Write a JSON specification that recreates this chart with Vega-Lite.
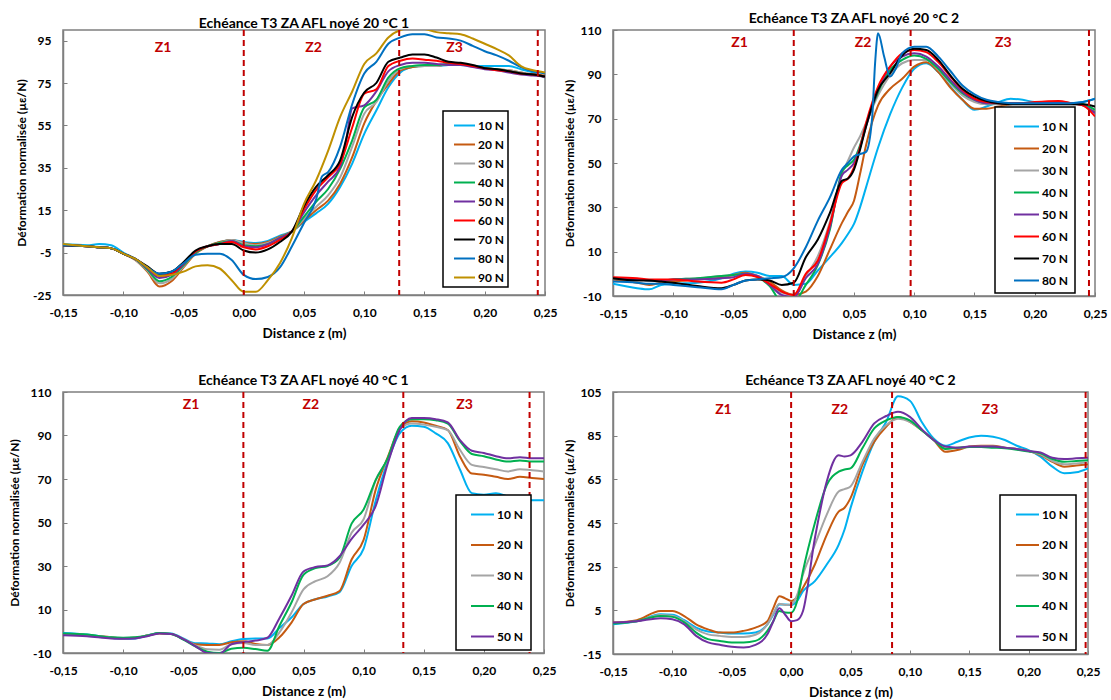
{
"$schema":"https://vega.github.io/schema/vega-lite/v6.json",
"background":"white",
"padding":{"left":7,"top":11,"right":0,"bottom":0},
"config":{
 "font":"Lato",
 "view":{"stroke":"#7f7f7f","strokeWidth":1.5},
 "axis":{"grid":false,"domainColor":"#7f7f7f","domainWidth":1.5,"tickColor":"#7f7f7f","tickSize":-4,"labelFlush":false,"labelOverlap":false,"labelFont":"Lato","labelFontWeight":"bold","labelFontSize":12,"labelColor":"#000","labelPadding":16,"titleFont":"Lato","titleFontWeight":"bold","titleFontSize":12,"titleColor":"#000"},
 "axisX":{"titlePadding":8,"titleFontSize":13.5},
 "axisY":{"titlePadding":4},
 "title":{"font":"Lato","fontSize":14,"fontWeight":"bold","color":"#000","offset":-2},
 "legend":{"symbolType":"stroke","symbolStrokeWidth":2,"labelFont":"Lato","labelFontSize":12,"labelFontWeight":"bold","labelColor":"#000","strokeColor":"#000","fillColor":"#fff","labelOffset":2,"strokeWidth":1.5}
},
"datasets":{
"p1":[
{"s":10,"x":-0.15,"y":-1},{"s":10,"x":-0.13,"y":-1.5},{"s":10,"x":-0.12,"y":-1},{"s":10,"x":-0.11,"y":-1.5},{"s":10,"x":-0.1,"y":-5},{"s":10,"x":-0.09,"y":-8},{"s":10,"x":-0.08,"y":-12},{"s":10,"x":-0.07,"y":-15},{"s":10,"x":-0.06,"y":-14},{"s":10,"x":-0.05,"y":-10.5},{"s":10,"x":-0.04,"y":-5},{"s":10,"x":-0.03,"y":-2},{"s":10,"x":-0.02,"y":0},{"s":10,"x":-0.01,"y":1},{"s":10,"x":0,"y":0},{"s":10,"x":0.01,"y":-0.5},{"s":10,"x":0.02,"y":0.5},{"s":10,"x":0.03,"y":3},{"s":10,"x":0.04,"y":5},{"s":10,"x":0.05,"y":9.5},{"s":10,"x":0.06,"y":13.5},{"s":10,"x":0.07,"y":18},{"s":10,"x":0.08,"y":26},{"s":10,"x":0.09,"y":37},{"s":10,"x":0.1,"y":51},{"s":10,"x":0.11,"y":62},{"s":10,"x":0.12,"y":73},{"s":10,"x":0.13,"y":80},{"s":10,"x":0.14,"y":82.5},{"s":10,"x":0.15,"y":83},{"s":10,"x":0.16,"y":83},{"s":10,"x":0.17,"y":83.5},{"s":10,"x":0.18,"y":83.5},{"s":10,"x":0.19,"y":83},{"s":10,"x":0.2,"y":83},{"s":10,"x":0.21,"y":83},{"s":10,"x":0.22,"y":83},{"s":10,"x":0.23,"y":81.5},{"s":10,"x":0.24,"y":80},{"s":10,"x":0.25,"y":77.5},
{"s":20,"x":-0.15,"y":-1.5},{"s":20,"x":-0.13,"y":-2},{"s":20,"x":-0.12,"y":-2.5},{"s":20,"x":-0.11,"y":-3},{"s":20,"x":-0.1,"y":-5.5},{"s":20,"x":-0.09,"y":-8.5},{"s":20,"x":-0.08,"y":-14},{"s":20,"x":-0.07,"y":-21},{"s":20,"x":-0.06,"y":-18.5},{"s":20,"x":-0.05,"y":-12},{"s":20,"x":-0.04,"y":-5.5},{"s":20,"x":-0.03,"y":-2},{"s":20,"x":-0.02,"y":0},{"s":20,"x":-0.01,"y":1},{"s":20,"x":0,"y":-0.5},{"s":20,"x":0.01,"y":-1},{"s":20,"x":0.02,"y":0},{"s":20,"x":0.03,"y":2.5},{"s":20,"x":0.04,"y":5},{"s":20,"x":0.05,"y":10},{"s":20,"x":0.06,"y":15},{"s":20,"x":0.07,"y":19.5},{"s":20,"x":0.08,"y":27.5},{"s":20,"x":0.09,"y":40},{"s":20,"x":0.1,"y":56},{"s":20,"x":0.11,"y":66.5},{"s":20,"x":0.12,"y":74.5},{"s":20,"x":0.13,"y":81},{"s":20,"x":0.14,"y":82.5},{"s":20,"x":0.15,"y":83},{"s":20,"x":0.16,"y":83},{"s":20,"x":0.17,"y":84},{"s":20,"x":0.18,"y":84},{"s":20,"x":0.19,"y":83},{"s":20,"x":0.2,"y":82},{"s":20,"x":0.21,"y":81.5},{"s":20,"x":0.22,"y":81},{"s":20,"x":0.23,"y":80},{"s":20,"x":0.24,"y":79},{"s":20,"x":0.25,"y":78.5},
{"s":30,"x":-0.15,"y":-1.5},{"s":30,"x":-0.13,"y":-2},{"s":30,"x":-0.12,"y":-2.5},{"s":30,"x":-0.11,"y":-3},{"s":30,"x":-0.1,"y":-5.5},{"s":30,"x":-0.09,"y":-8.5},{"s":30,"x":-0.08,"y":-13.5},{"s":30,"x":-0.07,"y":-19.5},{"s":30,"x":-0.06,"y":-17.5},{"s":30,"x":-0.05,"y":-11.5},{"s":30,"x":-0.04,"y":-5},{"s":30,"x":-0.03,"y":-2},{"s":30,"x":-0.02,"y":-0.5},{"s":30,"x":-0.01,"y":1},{"s":30,"x":0,"y":-0.5},{"s":30,"x":0.01,"y":-1.5},{"s":30,"x":0.02,"y":-0.5},{"s":30,"x":0.03,"y":2},{"s":30,"x":0.04,"y":5},{"s":30,"x":0.05,"y":11},{"s":30,"x":0.06,"y":16.5},{"s":30,"x":0.07,"y":22},{"s":30,"x":0.08,"y":30.5},{"s":30,"x":0.09,"y":45},{"s":30,"x":0.1,"y":60.5},{"s":30,"x":0.11,"y":66},{"s":30,"x":0.12,"y":76},{"s":30,"x":0.13,"y":81.5},{"s":30,"x":0.14,"y":83},{"s":30,"x":0.15,"y":83},{"s":30,"x":0.16,"y":83},{"s":30,"x":0.17,"y":84},{"s":30,"x":0.18,"y":84},{"s":30,"x":0.19,"y":83},{"s":30,"x":0.2,"y":82},{"s":30,"x":0.21,"y":81.5},{"s":30,"x":0.22,"y":81},{"s":30,"x":0.23,"y":80},{"s":30,"x":0.24,"y":79},{"s":30,"x":0.25,"y":78},
{"s":40,"x":-0.15,"y":-1.5},{"s":40,"x":-0.13,"y":-2},{"s":40,"x":-0.12,"y":-2.5},{"s":40,"x":-0.11,"y":-3},{"s":40,"x":-0.1,"y":-5.5},{"s":40,"x":-0.09,"y":-8},{"s":40,"x":-0.08,"y":-13},{"s":40,"x":-0.07,"y":-18.5},{"s":40,"x":-0.06,"y":-16.5},{"s":40,"x":-0.05,"y":-11},{"s":40,"x":-0.04,"y":-5},{"s":40,"x":-0.03,"y":-2},{"s":40,"x":-0.02,"y":-0.5},{"s":40,"x":-0.01,"y":0.5},{"s":40,"x":0,"y":-1.5},{"s":40,"x":0.01,"y":-2},{"s":40,"x":0.02,"y":-1},{"s":40,"x":0.03,"y":2},{"s":40,"x":0.04,"y":5},{"s":40,"x":0.05,"y":12},{"s":40,"x":0.06,"y":19},{"s":40,"x":0.07,"y":25},{"s":40,"x":0.08,"y":34.5},{"s":40,"x":0.09,"y":48},{"s":40,"x":0.1,"y":63.5},{"s":40,"x":0.11,"y":67},{"s":40,"x":0.12,"y":77.5},{"s":40,"x":0.13,"y":82},{"s":40,"x":0.14,"y":83},{"s":40,"x":0.15,"y":83.5},{"s":40,"x":0.16,"y":83.5},{"s":40,"x":0.17,"y":84},{"s":40,"x":0.18,"y":84},{"s":40,"x":0.19,"y":83},{"s":40,"x":0.2,"y":82},{"s":40,"x":0.21,"y":81.5},{"s":40,"x":0.22,"y":80.5},{"s":40,"x":0.23,"y":79.5},{"s":40,"x":0.24,"y":79},{"s":40,"x":0.25,"y":78},
{"s":50,"x":-0.15,"y":-1.5},{"s":50,"x":-0.13,"y":-2},{"s":50,"x":-0.12,"y":-2.5},{"s":50,"x":-0.11,"y":-3},{"s":50,"x":-0.1,"y":-5.5},{"s":50,"x":-0.09,"y":-8},{"s":50,"x":-0.08,"y":-12.5},{"s":50,"x":-0.07,"y":-17},{"s":50,"x":-0.06,"y":-15.5},{"s":50,"x":-0.05,"y":-10.5},{"s":50,"x":-0.04,"y":-4.5},{"s":50,"x":-0.03,"y":-2},{"s":50,"x":-0.02,"y":-1},{"s":50,"x":-0.01,"y":0.5},{"s":50,"x":0,"y":-2},{"s":50,"x":0.01,"y":-2.5},{"s":50,"x":0.02,"y":-1},{"s":50,"x":0.03,"y":2},{"s":50,"x":0.04,"y":5},{"s":50,"x":0.05,"y":14},{"s":50,"x":0.06,"y":22},{"s":50,"x":0.07,"y":28.5},{"s":50,"x":0.08,"y":35.5},{"s":50,"x":0.085,"y":48},{"s":50,"x":0.09,"y":63},{"s":50,"x":0.1,"y":64.5},{"s":50,"x":0.11,"y":71},{"s":50,"x":0.12,"y":80.5},{"s":50,"x":0.13,"y":83.5},{"s":50,"x":0.14,"y":84.5},{"s":50,"x":0.15,"y":84.5},{"s":50,"x":0.16,"y":84},{"s":50,"x":0.17,"y":83.5},{"s":50,"x":0.18,"y":83.5},{"s":50,"x":0.19,"y":82.5},{"s":50,"x":0.2,"y":81.5},{"s":50,"x":0.21,"y":81},{"s":50,"x":0.22,"y":80},{"s":50,"x":0.23,"y":79},{"s":50,"x":0.24,"y":78.5},{"s":50,"x":0.25,"y":78},
{"s":60,"x":-0.15,"y":-1.5},{"s":60,"x":-0.13,"y":-2},{"s":60,"x":-0.12,"y":-2.5},{"s":60,"x":-0.11,"y":-3},{"s":60,"x":-0.1,"y":-5.5},{"s":60,"x":-0.09,"y":-8},{"s":60,"x":-0.08,"y":-12},{"s":60,"x":-0.07,"y":-16},{"s":60,"x":-0.06,"y":-15},{"s":60,"x":-0.05,"y":-10},{"s":60,"x":-0.04,"y":-4.5},{"s":60,"x":-0.03,"y":-2},{"s":60,"x":-0.02,"y":-1},{"s":60,"x":-0.01,"y":0},{"s":60,"x":0,"y":-2.5},{"s":60,"x":0.01,"y":-3.5},{"s":60,"x":0.02,"y":-2},{"s":60,"x":0.03,"y":1},{"s":60,"x":0.04,"y":5},{"s":60,"x":0.05,"y":15.5},{"s":60,"x":0.06,"y":24.5},{"s":60,"x":0.07,"y":30.5},{"s":60,"x":0.08,"y":37},{"s":60,"x":0.09,"y":54},{"s":60,"x":0.1,"y":70},{"s":60,"x":0.11,"y":72},{"s":60,"x":0.12,"y":83},{"s":60,"x":0.13,"y":85.5},{"s":60,"x":0.14,"y":86.5},{"s":60,"x":0.15,"y":86},{"s":60,"x":0.16,"y":85.5},{"s":60,"x":0.17,"y":84.5},{"s":60,"x":0.18,"y":84},{"s":60,"x":0.19,"y":83},{"s":60,"x":0.2,"y":82},{"s":60,"x":0.21,"y":81},{"s":60,"x":0.22,"y":80.5},{"s":60,"x":0.23,"y":79.5},{"s":60,"x":0.24,"y":79},{"s":60,"x":0.25,"y":78},
{"s":70,"x":-0.15,"y":-1.5},{"s":70,"x":-0.13,"y":-2},{"s":70,"x":-0.12,"y":-2.5},{"s":70,"x":-0.11,"y":-3},{"s":70,"x":-0.1,"y":-5.5},{"s":70,"x":-0.09,"y":-8},{"s":70,"x":-0.08,"y":-11.5},{"s":70,"x":-0.07,"y":-15},{"s":70,"x":-0.06,"y":-14},{"s":70,"x":-0.05,"y":-9.5},{"s":70,"x":-0.04,"y":-4},{"s":70,"x":-0.03,"y":-2},{"s":70,"x":-0.02,"y":-1},{"s":70,"x":-0.01,"y":-1},{"s":70,"x":0,"y":-4},{"s":70,"x":0.01,"y":-5},{"s":70,"x":0.02,"y":-3.5},{"s":70,"x":0.03,"y":0},{"s":70,"x":0.04,"y":5},{"s":70,"x":0.05,"y":17},{"s":70,"x":0.06,"y":26},{"s":70,"x":0.07,"y":31.5},{"s":70,"x":0.08,"y":38.5},{"s":70,"x":0.09,"y":59},{"s":70,"x":0.1,"y":70.5},{"s":70,"x":0.11,"y":75},{"s":70,"x":0.12,"y":85},{"s":70,"x":0.13,"y":87},{"s":70,"x":0.14,"y":88.5},{"s":70,"x":0.15,"y":88.5},{"s":70,"x":0.16,"y":87},{"s":70,"x":0.17,"y":85},{"s":70,"x":0.18,"y":84.5},{"s":70,"x":0.19,"y":83.5},{"s":70,"x":0.2,"y":82},{"s":70,"x":0.21,"y":81.5},{"s":70,"x":0.22,"y":80.5},{"s":70,"x":0.23,"y":79.5},{"s":70,"x":0.24,"y":79},{"s":70,"x":0.25,"y":78},
{"s":80,"x":-0.15,"y":-1.5},{"s":80,"x":-0.13,"y":-2},{"s":80,"x":-0.12,"y":-2.5},{"s":80,"x":-0.11,"y":-3},{"s":80,"x":-0.1,"y":-5.5},{"s":80,"x":-0.09,"y":-8},{"s":80,"x":-0.08,"y":-12},{"s":80,"x":-0.07,"y":-15},{"s":80,"x":-0.06,"y":-14},{"s":80,"x":-0.05,"y":-10},{"s":80,"x":-0.04,"y":-6},{"s":80,"x":-0.03,"y":-5.5},{"s":80,"x":-0.02,"y":-5.5},{"s":80,"x":-0.01,"y":-8.5},{"s":80,"x":0,"y":-15.5},{"s":80,"x":0.01,"y":-17.5},{"s":80,"x":0.02,"y":-16.5},{"s":80,"x":0.03,"y":-12},{"s":80,"x":0.04,"y":-2},{"s":80,"x":0.05,"y":9},{"s":80,"x":0.06,"y":20},{"s":80,"x":0.065,"y":31},{"s":80,"x":0.07,"y":33},{"s":80,"x":0.08,"y":45},{"s":80,"x":0.09,"y":65},{"s":80,"x":0.1,"y":79.5},{"s":80,"x":0.11,"y":85},{"s":80,"x":0.12,"y":93.5},{"s":80,"x":0.13,"y":96.5},{"s":80,"x":0.14,"y":98},{"s":80,"x":0.15,"y":98},{"s":80,"x":0.16,"y":96.5},{"s":80,"x":0.17,"y":96},{"s":80,"x":0.18,"y":95},{"s":80,"x":0.19,"y":92.5},{"s":80,"x":0.2,"y":90},{"s":80,"x":0.21,"y":88},{"s":80,"x":0.22,"y":85.5},{"s":80,"x":0.23,"y":82.5},{"s":80,"x":0.24,"y":80.5},{"s":80,"x":0.25,"y":79.5},
{"s":90,"x":-0.15,"y":-1},{"s":90,"x":-0.13,"y":-2},{"s":90,"x":-0.12,"y":-2.5},{"s":90,"x":-0.11,"y":-3},{"s":90,"x":-0.1,"y":-5.5},{"s":90,"x":-0.09,"y":-8},{"s":90,"x":-0.08,"y":-12},{"s":90,"x":-0.07,"y":-16},{"s":90,"x":-0.06,"y":-15.5},{"s":90,"x":-0.05,"y":-14},{"s":90,"x":-0.04,"y":-11.5},{"s":90,"x":-0.03,"y":-11},{"s":90,"x":-0.02,"y":-12.5},{"s":90,"x":-0.01,"y":-18},{"s":90,"x":0,"y":-23.5},{"s":90,"x":0.01,"y":-23.5},{"s":90,"x":0.02,"y":-18},{"s":90,"x":0.03,"y":-10},{"s":90,"x":0.04,"y":2},{"s":90,"x":0.05,"y":18},{"s":90,"x":0.06,"y":29},{"s":90,"x":0.07,"y":43},{"s":90,"x":0.08,"y":59},{"s":90,"x":0.09,"y":71},{"s":90,"x":0.1,"y":84},{"s":90,"x":0.11,"y":89},{"s":90,"x":0.12,"y":96.5},{"s":90,"x":0.13,"y":100},{"s":90,"x":0.14,"y":101},{"s":90,"x":0.15,"y":100.5},{"s":90,"x":0.16,"y":99},{"s":90,"x":0.17,"y":98.5},{"s":90,"x":0.18,"y":98},{"s":90,"x":0.19,"y":96},{"s":90,"x":0.2,"y":93.5},{"s":90,"x":0.21,"y":91},{"s":90,"x":0.22,"y":88},{"s":90,"x":0.23,"y":83},{"s":90,"x":0.24,"y":81},{"s":90,"x":0.25,"y":80}
],
"p2":[
{"s":10,"x":-0.15,"y":-4.5},{"s":10,"x":-0.13,"y":-6.5},{"s":10,"x":-0.12,"y":-7},{"s":10,"x":-0.11,"y":-5},{"s":10,"x":-0.1,"y":-4.5},{"s":10,"x":-0.08,"y":-4},{"s":10,"x":-0.06,"y":-2},{"s":10,"x":-0.05,"y":0},{"s":10,"x":-0.04,"y":1},{"s":10,"x":-0.03,"y":0.5},{"s":10,"x":-0.02,"y":-1},{"s":10,"x":-0.01,"y":-1},{"s":10,"x":0,"y":-5},{"s":10,"x":0.01,"y":-4.5},{"s":10,"x":0.02,"y":1.5},{"s":10,"x":0.03,"y":7.5},{"s":10,"x":0.04,"y":14},{"s":10,"x":0.045,"y":18},{"s":10,"x":0.05,"y":22.5},{"s":10,"x":0.055,"y":30},{"s":10,"x":0.06,"y":39},{"s":10,"x":0.07,"y":57},{"s":10,"x":0.08,"y":72},{"s":10,"x":0.09,"y":84},{"s":10,"x":0.1,"y":92.5},{"s":10,"x":0.11,"y":95},{"s":10,"x":0.12,"y":91},{"s":10,"x":0.13,"y":84.5},{"s":10,"x":0.14,"y":78.5},{"s":10,"x":0.15,"y":74},{"s":10,"x":0.16,"y":75.5},{"s":10,"x":0.17,"y":77.5},{"s":10,"x":0.18,"y":79},{"s":10,"x":0.19,"y":78.5},{"s":10,"x":0.2,"y":77.5},{"s":10,"x":0.22,"y":77},{"s":10,"x":0.23,"y":77},{"s":10,"x":0.24,"y":77.5},{"s":10,"x":0.25,"y":79},
{"s":20,"x":-0.15,"y":-2.5},{"s":20,"x":-0.13,"y":-4},{"s":20,"x":-0.12,"y":-5},{"s":20,"x":-0.11,"y":-4},{"s":20,"x":-0.1,"y":-3.5},{"s":20,"x":-0.08,"y":-2.5},{"s":20,"x":-0.06,"y":-1.5},{"s":20,"x":-0.05,"y":-0.5},{"s":20,"x":-0.04,"y":0.5},{"s":20,"x":-0.03,"y":-1},{"s":20,"x":-0.02,"y":-3.5},{"s":20,"x":-0.01,"y":-7.5},{"s":20,"x":0,"y":-9.5},{"s":20,"x":0.01,"y":-8},{"s":20,"x":0.02,"y":-1},{"s":20,"x":0.03,"y":11},{"s":20,"x":0.04,"y":23},{"s":20,"x":0.045,"y":28},{"s":20,"x":0.05,"y":33},{"s":20,"x":0.055,"y":45},{"s":20,"x":0.06,"y":58},{"s":20,"x":0.07,"y":76},{"s":20,"x":0.08,"y":83.5},{"s":20,"x":0.09,"y":88},{"s":20,"x":0.1,"y":93.5},{"s":20,"x":0.11,"y":95.5},{"s":20,"x":0.12,"y":91},{"s":20,"x":0.13,"y":84},{"s":20,"x":0.14,"y":78.5},{"s":20,"x":0.15,"y":74.5},{"s":20,"x":0.16,"y":74.5},{"s":20,"x":0.17,"y":75.5},{"s":20,"x":0.18,"y":76.5},{"s":20,"x":0.19,"y":77},{"s":20,"x":0.2,"y":77},{"s":20,"x":0.22,"y":77.5},{"s":20,"x":0.23,"y":77},{"s":20,"x":0.24,"y":76},{"s":20,"x":0.25,"y":73},
{"s":30,"x":-0.15,"y":-2},{"s":30,"x":-0.13,"y":-2.5},{"s":30,"x":-0.12,"y":-3},{"s":30,"x":-0.11,"y":-3},{"s":30,"x":-0.1,"y":-2.5},{"s":30,"x":-0.08,"y":-2},{"s":30,"x":-0.06,"y":-1},{"s":30,"x":-0.05,"y":-0.5},{"s":30,"x":-0.04,"y":0},{"s":30,"x":-0.03,"y":-1},{"s":30,"x":-0.02,"y":-4.5},{"s":30,"x":-0.01,"y":-8.5},{"s":30,"x":0,"y":-9.5},{"s":30,"x":0.01,"y":-1},{"s":30,"x":0.02,"y":8},{"s":30,"x":0.03,"y":23.5},{"s":30,"x":0.04,"y":45},{"s":30,"x":0.045,"y":51},{"s":30,"x":0.05,"y":57},{"s":30,"x":0.055,"y":62},{"s":30,"x":0.06,"y":68},{"s":30,"x":0.07,"y":80.5},{"s":30,"x":0.08,"y":89.5},{"s":30,"x":0.09,"y":95},{"s":30,"x":0.1,"y":96.5},{"s":30,"x":0.11,"y":96.5},{"s":30,"x":0.12,"y":92},{"s":30,"x":0.13,"y":86},{"s":30,"x":0.14,"y":80.5},{"s":30,"x":0.15,"y":77.5},{"s":30,"x":0.16,"y":76.5},{"s":30,"x":0.17,"y":76.5},{"s":30,"x":0.18,"y":76.5},{"s":30,"x":0.19,"y":76.5},{"s":30,"x":0.2,"y":76.5},{"s":30,"x":0.22,"y":76.5},{"s":30,"x":0.23,"y":76.5},{"s":30,"x":0.24,"y":76},{"s":30,"x":0.25,"y":74},
{"s":40,"x":-0.15,"y":-2},{"s":40,"x":-0.13,"y":-2.5},{"s":40,"x":-0.12,"y":-3},{"s":40,"x":-0.11,"y":-3},{"s":40,"x":-0.1,"y":-2.5},{"s":40,"x":-0.08,"y":-2},{"s":40,"x":-0.06,"y":-1},{"s":40,"x":-0.05,"y":-0.5},{"s":40,"x":-0.04,"y":0},{"s":40,"x":-0.03,"y":-1.5},{"s":40,"x":-0.02,"y":-5.5},{"s":40,"x":-0.01,"y":-12.5},{"s":40,"x":0,"y":-12.5},{"s":40,"x":0.01,"y":-5},{"s":40,"x":0.02,"y":4},{"s":40,"x":0.03,"y":20},{"s":40,"x":0.04,"y":46},{"s":40,"x":0.045,"y":49},{"s":40,"x":0.05,"y":51.5},{"s":40,"x":0.055,"y":58},{"s":40,"x":0.06,"y":67},{"s":40,"x":0.07,"y":82},{"s":40,"x":0.08,"y":92},{"s":40,"x":0.09,"y":96.5},{"s":40,"x":0.1,"y":98.5},{"s":40,"x":0.11,"y":97},{"s":40,"x":0.12,"y":92.5},{"s":40,"x":0.13,"y":86.5},{"s":40,"x":0.14,"y":81.5},{"s":40,"x":0.15,"y":78.5},{"s":40,"x":0.16,"y":77},{"s":40,"x":0.17,"y":77},{"s":40,"x":0.18,"y":77},{"s":40,"x":0.19,"y":77},{"s":40,"x":0.2,"y":77},{"s":40,"x":0.22,"y":77},{"s":40,"x":0.23,"y":77},{"s":40,"x":0.24,"y":76.5},{"s":40,"x":0.25,"y":74},
{"s":50,"x":-0.15,"y":-2},{"s":50,"x":-0.13,"y":-2.5},{"s":50,"x":-0.12,"y":-3},{"s":50,"x":-0.11,"y":-3},{"s":50,"x":-0.1,"y":-2.5},{"s":50,"x":-0.08,"y":-2.5},{"s":50,"x":-0.06,"y":-2},{"s":50,"x":-0.05,"y":-1.5},{"s":50,"x":-0.04,"y":0},{"s":50,"x":-0.03,"y":-1},{"s":50,"x":-0.02,"y":-5},{"s":50,"x":-0.01,"y":-9.5},{"s":50,"x":0,"y":-10.5},{"s":50,"x":0.01,"y":-2},{"s":50,"x":0.02,"y":4.5},{"s":50,"x":0.03,"y":21},{"s":50,"x":0.04,"y":44.5},{"s":50,"x":0.045,"y":47},{"s":50,"x":0.05,"y":50},{"s":50,"x":0.055,"y":57},{"s":50,"x":0.06,"y":66.5},{"s":50,"x":0.07,"y":83},{"s":50,"x":0.08,"y":93.5},{"s":50,"x":0.09,"y":98},{"s":50,"x":0.1,"y":99.5},{"s":50,"x":0.11,"y":98},{"s":50,"x":0.12,"y":93.5},{"s":50,"x":0.13,"y":87.5},{"s":50,"x":0.14,"y":82},{"s":50,"x":0.15,"y":78.5},{"s":50,"x":0.16,"y":77},{"s":50,"x":0.17,"y":77},{"s":50,"x":0.18,"y":77},{"s":50,"x":0.19,"y":77},{"s":50,"x":0.2,"y":77},{"s":50,"x":0.22,"y":77.5},{"s":50,"x":0.23,"y":77},{"s":50,"x":0.24,"y":76},{"s":50,"x":0.25,"y":72.5},
{"s":60,"x":-0.15,"y":-1.5},{"s":60,"x":-0.13,"y":-2},{"s":60,"x":-0.12,"y":-2.5},{"s":60,"x":-0.11,"y":-2.5},{"s":60,"x":-0.1,"y":-2.5},{"s":60,"x":-0.08,"y":-3.5},{"s":60,"x":-0.06,"y":-4},{"s":60,"x":-0.05,"y":-2.5},{"s":60,"x":-0.04,"y":-0.5},{"s":60,"x":-0.03,"y":-1.5},{"s":60,"x":-0.02,"y":-4.5},{"s":60,"x":-0.01,"y":-8},{"s":60,"x":0,"y":-9.5},{"s":60,"x":0.01,"y":0},{"s":60,"x":0.02,"y":6},{"s":60,"x":0.03,"y":22.5},{"s":60,"x":0.04,"y":41},{"s":60,"x":0.045,"y":43},{"s":60,"x":0.05,"y":48},{"s":60,"x":0.055,"y":57},{"s":60,"x":0.06,"y":68},{"s":60,"x":0.07,"y":84.5},{"s":60,"x":0.08,"y":93.5},{"s":60,"x":0.09,"y":99.5},{"s":60,"x":0.1,"y":101},{"s":60,"x":0.11,"y":100},{"s":60,"x":0.12,"y":95.5},{"s":60,"x":0.13,"y":89},{"s":60,"x":0.14,"y":83},{"s":60,"x":0.15,"y":79},{"s":60,"x":0.16,"y":77.5},{"s":60,"x":0.17,"y":77},{"s":60,"x":0.18,"y":77},{"s":60,"x":0.19,"y":77},{"s":60,"x":0.2,"y":77.5},{"s":60,"x":0.22,"y":78},{"s":60,"x":0.23,"y":77},{"s":60,"x":0.24,"y":76},{"s":60,"x":0.25,"y":71},
{"s":70,"x":-0.15,"y":-2},{"s":70,"x":-0.13,"y":-3},{"s":70,"x":-0.12,"y":-3},{"s":70,"x":-0.11,"y":-3.5},{"s":70,"x":-0.1,"y":-4},{"s":70,"x":-0.08,"y":-5.5},{"s":70,"x":-0.06,"y":-6.5},{"s":70,"x":-0.05,"y":-5},{"s":70,"x":-0.04,"y":-3},{"s":70,"x":-0.03,"y":-2.5},{"s":70,"x":-0.02,"y":-3},{"s":70,"x":-0.01,"y":-5},{"s":70,"x":0,"y":-4},{"s":70,"x":0.01,"y":7.5},{"s":70,"x":0.02,"y":15.5},{"s":70,"x":0.03,"y":27.5},{"s":70,"x":0.04,"y":42},{"s":70,"x":0.045,"y":43},{"s":70,"x":0.05,"y":47},{"s":70,"x":0.055,"y":56},{"s":70,"x":0.06,"y":66.5},{"s":70,"x":0.07,"y":83},{"s":70,"x":0.08,"y":90.5},{"s":70,"x":0.09,"y":98.5},{"s":70,"x":0.1,"y":101.5},{"s":70,"x":0.11,"y":101},{"s":70,"x":0.12,"y":96.5},{"s":70,"x":0.13,"y":89.5},{"s":70,"x":0.14,"y":83.5},{"s":70,"x":0.15,"y":80},{"s":70,"x":0.16,"y":78},{"s":70,"x":0.17,"y":77},{"s":70,"x":0.18,"y":76.5},{"s":70,"x":0.19,"y":76.5},{"s":70,"x":0.2,"y":76.5},{"s":70,"x":0.22,"y":76.5},{"s":70,"x":0.23,"y":76.5},{"s":70,"x":0.24,"y":76.5},{"s":70,"x":0.25,"y":75.5},
{"s":80,"x":-0.15,"y":-3.5},{"s":80,"x":-0.13,"y":-4},{"s":80,"x":-0.12,"y":-4.5},{"s":80,"x":-0.11,"y":-4.5},{"s":80,"x":-0.1,"y":-5},{"s":80,"x":-0.08,"y":-6},{"s":80,"x":-0.06,"y":-7},{"s":80,"x":-0.05,"y":-5},{"s":80,"x":-0.04,"y":-3},{"s":80,"x":-0.03,"y":-2.5},{"s":80,"x":-0.02,"y":-2},{"s":80,"x":-0.01,"y":-1.5},{"s":80,"x":0,"y":2.5},{"s":80,"x":0.01,"y":12},{"s":80,"x":0.02,"y":24},{"s":80,"x":0.03,"y":34.5},{"s":80,"x":0.04,"y":47},{"s":80,"x":0.045,"y":50},{"s":80,"x":0.05,"y":53},{"s":80,"x":0.055,"y":54},{"s":80,"x":0.06,"y":55},{"s":80,"x":0.065,"y":70},{"s":80,"x":0.0675,"y":95},{"s":80,"x":0.07,"y":108.5},{"s":80,"x":0.075,"y":98},{"s":80,"x":0.08,"y":89},{"s":80,"x":0.085,"y":93},{"s":80,"x":0.09,"y":99.5},{"s":80,"x":0.1,"y":102.5},{"s":80,"x":0.11,"y":102.5},{"s":80,"x":0.12,"y":98},{"s":80,"x":0.13,"y":91.5},{"s":80,"x":0.14,"y":85},{"s":80,"x":0.15,"y":81},{"s":80,"x":0.16,"y":78.5},{"s":80,"x":0.17,"y":77.5},{"s":80,"x":0.18,"y":77},{"s":80,"x":0.19,"y":77},{"s":80,"x":0.2,"y":77},{"s":80,"x":0.22,"y":77},{"s":80,"x":0.23,"y":77},{"s":80,"x":0.24,"y":77.5},{"s":80,"x":0.25,"y":79}
],
"p3":[
{"s":10,"x":-0.15,"y":-0.8},{"s":10,"x":-0.13,"y":-1.5},{"s":10,"x":-0.11,"y":-3},{"s":10,"x":-0.1,"y":-3.5},{"s":10,"x":-0.09,"y":-3.3},{"s":10,"x":-0.08,"y":-2},{"s":10,"x":-0.07,"y":-0.8},{"s":10,"x":-0.06,"y":-1},{"s":10,"x":-0.05,"y":-3.3},{"s":10,"x":-0.04,"y":-5.5},{"s":10,"x":-0.03,"y":-5.6},{"s":10,"x":-0.02,"y":-6},{"s":10,"x":-0.01,"y":-4.6},{"s":10,"x":0,"y":-3.6},{"s":10,"x":0.01,"y":-3.3},{"s":10,"x":0.02,"y":-3.3},{"s":10,"x":0.03,"y":1.5},{"s":10,"x":0.04,"y":6.3},{"s":10,"x":0.05,"y":12.5},{"s":10,"x":0.06,"y":14.7},{"s":10,"x":0.07,"y":16},{"s":10,"x":0.08,"y":18},{"s":10,"x":0.09,"y":30},{"s":10,"x":0.1,"y":38},{"s":10,"x":0.11,"y":60},{"s":10,"x":0.12,"y":78},{"s":10,"x":0.13,"y":91},{"s":10,"x":0.14,"y":94.5},{"s":10,"x":0.15,"y":94},{"s":10,"x":0.16,"y":91},{"s":10,"x":0.17,"y":86.5},{"s":10,"x":0.18,"y":74.5},{"s":10,"x":0.19,"y":63.5},{"s":10,"x":0.2,"y":62.8},{"s":10,"x":0.21,"y":63.5},{"s":10,"x":0.22,"y":62},{"s":10,"x":0.23,"y":60.5},{"s":10,"x":0.24,"y":60.2},{"s":10,"x":0.25,"y":60.2},
{"s":20,"x":-0.15,"y":-1.3},{"s":20,"x":-0.13,"y":-1.8},{"s":20,"x":-0.11,"y":-2.8},{"s":20,"x":-0.1,"y":-3.2},{"s":20,"x":-0.09,"y":-3},{"s":20,"x":-0.08,"y":-2},{"s":20,"x":-0.07,"y":-1},{"s":20,"x":-0.06,"y":-1.3},{"s":20,"x":-0.05,"y":-3.6},{"s":20,"x":-0.04,"y":-6},{"s":20,"x":-0.03,"y":-6.3},{"s":20,"x":-0.02,"y":-6.3},{"s":20,"x":-0.01,"y":-5.1},{"s":20,"x":0,"y":-4.6},{"s":20,"x":0.01,"y":-5.8},{"s":20,"x":0.02,"y":-6.3},{"s":20,"x":0.03,"y":-2.8},{"s":20,"x":0.04,"y":4},{"s":20,"x":0.05,"y":12.5},{"s":20,"x":0.06,"y":14.7},{"s":20,"x":0.07,"y":16.3},{"s":20,"x":0.08,"y":18.5},{"s":20,"x":0.09,"y":33},{"s":20,"x":0.1,"y":42},{"s":20,"x":0.11,"y":65},{"s":20,"x":0.12,"y":80},{"s":20,"x":0.13,"y":93},{"s":20,"x":0.14,"y":96.5},{"s":20,"x":0.15,"y":96},{"s":20,"x":0.16,"y":94.5},{"s":20,"x":0.17,"y":92.5},{"s":20,"x":0.18,"y":80.5},{"s":20,"x":0.19,"y":72.5},{"s":20,"x":0.2,"y":72},{"s":20,"x":0.21,"y":71},{"s":20,"x":0.22,"y":70},{"s":20,"x":0.23,"y":71},{"s":20,"x":0.24,"y":70.5},{"s":20,"x":0.25,"y":70},
{"s":30,"x":-0.15,"y":-1.3},{"s":30,"x":-0.13,"y":-1.8},{"s":30,"x":-0.11,"y":-2.8},{"s":30,"x":-0.1,"y":-3.2},{"s":30,"x":-0.09,"y":-3},{"s":30,"x":-0.08,"y":-2},{"s":30,"x":-0.07,"y":-0.8},{"s":30,"x":-0.06,"y":-1.3},{"s":30,"x":-0.05,"y":-3.6},{"s":30,"x":-0.04,"y":-6.5},{"s":30,"x":-0.03,"y":-8.3},{"s":30,"x":-0.02,"y":-8.5},{"s":30,"x":-0.01,"y":-6},{"s":30,"x":0,"y":-5.4},{"s":30,"x":0.01,"y":-6.3},{"s":30,"x":0.02,"y":-6.3},{"s":30,"x":0.03,"y":-0.5},{"s":30,"x":0.04,"y":8.6},{"s":30,"x":0.05,"y":19.3},{"s":30,"x":0.06,"y":23},{"s":30,"x":0.07,"y":25.3},{"s":30,"x":0.08,"y":31.5},{"s":30,"x":0.09,"y":45.3},{"s":30,"x":0.1,"y":51.5},{"s":30,"x":0.11,"y":69.5},{"s":30,"x":0.12,"y":79},{"s":30,"x":0.13,"y":93},{"s":30,"x":0.14,"y":95.5},{"s":30,"x":0.15,"y":95},{"s":30,"x":0.16,"y":94},{"s":30,"x":0.17,"y":92.5},{"s":30,"x":0.18,"y":83.5},{"s":30,"x":0.19,"y":76.5},{"s":30,"x":0.2,"y":75.5},{"s":30,"x":0.21,"y":74.5},{"s":30,"x":0.22,"y":73.5},{"s":30,"x":0.23,"y":74.5},{"s":30,"x":0.24,"y":74},{"s":30,"x":0.25,"y":73.5},
{"s":40,"x":-0.15,"y":-1},{"s":40,"x":-0.13,"y":-1.5},{"s":40,"x":-0.11,"y":-2.8},{"s":40,"x":-0.1,"y":-3},{"s":40,"x":-0.09,"y":-2.8},{"s":40,"x":-0.08,"y":-2},{"s":40,"x":-0.07,"y":-0.8},{"s":40,"x":-0.06,"y":-1.3},{"s":40,"x":-0.05,"y":-3.8},{"s":40,"x":-0.04,"y":-7},{"s":40,"x":-0.03,"y":-9.4},{"s":40,"x":-0.02,"y":-10},{"s":40,"x":-0.01,"y":-8},{"s":40,"x":0,"y":-7.6},{"s":40,"x":0.01,"y":-8.2},{"s":40,"x":0.02,"y":-9},{"s":40,"x":0.03,"y":2.5},{"s":40,"x":0.04,"y":13.2},{"s":40,"x":0.05,"y":26},{"s":40,"x":0.06,"y":29},{"s":40,"x":0.07,"y":30},{"s":40,"x":0.08,"y":33.8},{"s":40,"x":0.09,"y":49.5},{"s":40,"x":0.1,"y":56},{"s":40,"x":0.11,"y":69.5},{"s":40,"x":0.12,"y":79.5},{"s":40,"x":0.13,"y":94},{"s":40,"x":0.14,"y":97.5},{"s":40,"x":0.15,"y":97.5},{"s":40,"x":0.16,"y":97},{"s":40,"x":0.17,"y":95.5},{"s":40,"x":0.18,"y":87.5},{"s":40,"x":0.19,"y":81.5},{"s":40,"x":0.2,"y":80.5},{"s":40,"x":0.21,"y":79},{"s":40,"x":0.22,"y":78},{"s":40,"x":0.23,"y":78.5},{"s":40,"x":0.24,"y":78},{"s":40,"x":0.25,"y":78},
{"s":50,"x":-0.15,"y":-1.8},{"s":50,"x":-0.13,"y":-2.3},{"s":50,"x":-0.11,"y":-3.3},{"s":50,"x":-0.1,"y":-3.5},{"s":50,"x":-0.09,"y":-3.3},{"s":50,"x":-0.08,"y":-2.3},{"s":50,"x":-0.07,"y":-1},{"s":50,"x":-0.06,"y":-1.3},{"s":50,"x":-0.05,"y":-3.6},{"s":50,"x":-0.04,"y":-6.8},{"s":50,"x":-0.03,"y":-10},{"s":50,"x":-0.02,"y":-10.3},{"s":50,"x":-0.01,"y":-6},{"s":50,"x":0,"y":-5},{"s":50,"x":0.01,"y":-4.3},{"s":50,"x":0.02,"y":-3},{"s":50,"x":0.03,"y":6},{"s":50,"x":0.04,"y":16.3},{"s":50,"x":0.05,"y":27.5},{"s":50,"x":0.06,"y":29.5},{"s":50,"x":0.07,"y":30.3},{"s":50,"x":0.08,"y":34.5},{"s":50,"x":0.09,"y":42.5},{"s":50,"x":0.1,"y":49},{"s":50,"x":0.11,"y":57.5},{"s":50,"x":0.12,"y":77},{"s":50,"x":0.13,"y":92.5},{"s":50,"x":0.14,"y":98},{"s":50,"x":0.15,"y":98},{"s":50,"x":0.16,"y":97.5},{"s":50,"x":0.17,"y":96},{"s":50,"x":0.18,"y":88},{"s":50,"x":0.19,"y":83},{"s":50,"x":0.2,"y":82},{"s":50,"x":0.21,"y":80.5},{"s":50,"x":0.22,"y":79.5},{"s":50,"x":0.23,"y":80},{"s":50,"x":0.24,"y":79.5},{"s":50,"x":0.25,"y":79.5}
],
"p4":[
{"s":10,"x":-0.15,"y":-1.4},{"s":10,"x":-0.13,"y":0},{"s":10,"x":-0.11,"y":3.2},{"s":10,"x":-0.1,"y":3},{"s":10,"x":-0.09,"y":0.5},{"s":10,"x":-0.08,"y":-2.9},{"s":10,"x":-0.07,"y":-4.7},{"s":10,"x":-0.06,"y":-5.2},{"s":10,"x":-0.05,"y":-5.6},{"s":10,"x":-0.04,"y":-5.6},{"s":10,"x":-0.03,"y":-5.2},{"s":10,"x":-0.02,"y":-1.4},{"s":10,"x":-0.015,"y":3},{"s":10,"x":-0.01,"y":7.7},{"s":10,"x":-0.005,"y":7.7},{"s":10,"x":0,"y":7.4},{"s":10,"x":0.005,"y":9.3},{"s":10,"x":0.01,"y":13.8},{"s":10,"x":0.02,"y":18.4},{"s":10,"x":0.03,"y":26},{"s":10,"x":0.04,"y":35},{"s":10,"x":0.045,"y":42},{"s":10,"x":0.05,"y":51.8},{"s":10,"x":0.06,"y":68.5},{"s":10,"x":0.07,"y":82.2},{"s":10,"x":0.08,"y":91.3},{"s":10,"x":0.09,"y":103},{"s":10,"x":0.1,"y":101},{"s":10,"x":0.11,"y":91.3},{"s":10,"x":0.12,"y":83.7},{"s":10,"x":0.13,"y":80.4},{"s":10,"x":0.14,"y":82.2},{"s":10,"x":0.15,"y":84.2},{"s":10,"x":0.16,"y":85},{"s":10,"x":0.17,"y":84.5},{"s":10,"x":0.18,"y":83},{"s":10,"x":0.19,"y":80.4},{"s":10,"x":0.2,"y":78.4},{"s":10,"x":0.21,"y":75.4},{"s":10,"x":0.22,"y":70.8},{"s":10,"x":0.23,"y":67.8},{"s":10,"x":0.24,"y":68.2},{"s":10,"x":0.25,"y":70},
{"s":20,"x":-0.15,"y":-0.6},{"s":20,"x":-0.13,"y":0.5},{"s":20,"x":-0.11,"y":4.7},{"s":20,"x":-0.1,"y":4.7},{"s":20,"x":-0.09,"y":2.4},{"s":20,"x":-0.08,"y":-1.4},{"s":20,"x":-0.07,"y":-3.7},{"s":20,"x":-0.06,"y":-5.2},{"s":20,"x":-0.05,"y":-5.2},{"s":20,"x":-0.04,"y":-4.4},{"s":20,"x":-0.03,"y":-2.9},{"s":20,"x":-0.02,"y":0},{"s":20,"x":-0.015,"y":6},{"s":20,"x":-0.01,"y":11.5},{"s":20,"x":-0.005,"y":10.5},{"s":20,"x":0,"y":9.3},{"s":20,"x":0.005,"y":11},{"s":20,"x":0.01,"y":15.3},{"s":20,"x":0.02,"y":26},{"s":20,"x":0.03,"y":39.6},{"s":20,"x":0.04,"y":50.2},{"s":20,"x":0.045,"y":52},{"s":20,"x":0.05,"y":56.4},{"s":20,"x":0.06,"y":71.6},{"s":20,"x":0.07,"y":82.2},{"s":20,"x":0.08,"y":89},{"s":20,"x":0.09,"y":93.6},{"s":20,"x":0.1,"y":91.3},{"s":20,"x":0.11,"y":87.5},{"s":20,"x":0.12,"y":83},{"s":20,"x":0.13,"y":77.6},{"s":20,"x":0.14,"y":78.4},{"s":20,"x":0.15,"y":80},{"s":20,"x":0.16,"y":80.4},{"s":20,"x":0.17,"y":80.4},{"s":20,"x":0.18,"y":79.5},{"s":20,"x":0.19,"y":78.9},{"s":20,"x":0.2,"y":78},{"s":20,"x":0.21,"y":76.1},{"s":20,"x":0.22,"y":73},{"s":20,"x":0.23,"y":70.8},{"s":20,"x":0.24,"y":71.3},{"s":20,"x":0.25,"y":71.9},
{"s":30,"x":-0.15,"y":-0.8},{"s":30,"x":-0.13,"y":0},{"s":30,"x":-0.11,"y":2.9},{"s":30,"x":-0.1,"y":2.5},{"s":30,"x":-0.09,"y":0},{"s":30,"x":-0.08,"y":-3.7},{"s":30,"x":-0.07,"y":-6},{"s":30,"x":-0.06,"y":-6.7},{"s":30,"x":-0.05,"y":-7.2},{"s":30,"x":-0.04,"y":-7.2},{"s":30,"x":-0.03,"y":-6.2},{"s":30,"x":-0.02,"y":-1.4},{"s":30,"x":-0.015,"y":3.5},{"s":30,"x":-0.01,"y":8},{"s":30,"x":-0.005,"y":7.5},{"s":30,"x":0,"y":7.7},{"s":30,"x":0.005,"y":12},{"s":30,"x":0.01,"y":21.4},{"s":30,"x":0.02,"y":35},{"s":30,"x":0.03,"y":48.8},{"s":30,"x":0.04,"y":59.4},{"s":30,"x":0.045,"y":60.5},{"s":30,"x":0.05,"y":61.7},{"s":30,"x":0.06,"y":73},{"s":30,"x":0.07,"y":83.7},{"s":30,"x":0.08,"y":89.8},{"s":30,"x":0.09,"y":92.8},{"s":30,"x":0.1,"y":91.3},{"s":30,"x":0.11,"y":87.5},{"s":30,"x":0.12,"y":83},{"s":30,"x":0.13,"y":79.2},{"s":30,"x":0.14,"y":79.5},{"s":30,"x":0.15,"y":79.8},{"s":30,"x":0.16,"y":80},{"s":30,"x":0.17,"y":80},{"s":30,"x":0.18,"y":79.5},{"s":30,"x":0.19,"y":78.9},{"s":30,"x":0.2,"y":78},{"s":30,"x":0.21,"y":76.4},{"s":30,"x":0.22,"y":73.4},{"s":30,"x":0.23,"y":71.9},{"s":30,"x":0.24,"y":72.3},{"s":30,"x":0.25,"y":72.8},
{"s":40,"x":-0.15,"y":-1},{"s":40,"x":-0.13,"y":0},{"s":40,"x":-0.11,"y":2.4},{"s":40,"x":-0.1,"y":2},{"s":40,"x":-0.09,"y":-0.5},{"s":40,"x":-0.08,"y":-5.2},{"s":40,"x":-0.07,"y":-8.2},{"s":40,"x":-0.06,"y":-9},{"s":40,"x":-0.05,"y":-9.7},{"s":40,"x":-0.04,"y":-9.7},{"s":40,"x":-0.03,"y":-9},{"s":40,"x":-0.02,"y":-4.4},{"s":40,"x":-0.015,"y":0},{"s":40,"x":-0.01,"y":4.7},{"s":40,"x":-0.005,"y":4},{"s":40,"x":0,"y":3.9},{"s":40,"x":0.005,"y":9},{"s":40,"x":0.01,"y":23},{"s":40,"x":0.02,"y":45},{"s":40,"x":0.03,"y":62.4},{"s":40,"x":0.04,"y":68.5},{"s":40,"x":0.045,"y":69.5},{"s":40,"x":0.05,"y":70},{"s":40,"x":0.06,"y":79.2},{"s":40,"x":0.07,"y":88.3},{"s":40,"x":0.08,"y":92},{"s":40,"x":0.09,"y":93.6},{"s":40,"x":0.1,"y":92},{"s":40,"x":0.11,"y":87.5},{"s":40,"x":0.12,"y":83},{"s":40,"x":0.13,"y":78.9},{"s":40,"x":0.14,"y":79.5},{"s":40,"x":0.15,"y":79.8},{"s":40,"x":0.16,"y":79.8},{"s":40,"x":0.17,"y":79.5},{"s":40,"x":0.18,"y":79.2},{"s":40,"x":0.19,"y":78.6},{"s":40,"x":0.2,"y":77.8},{"s":40,"x":0.21,"y":76.9},{"s":40,"x":0.22,"y":74.3},{"s":40,"x":0.23,"y":73},{"s":40,"x":0.24,"y":73.4},{"s":40,"x":0.25,"y":73.7},
{"s":50,"x":-0.15,"y":-0.6},{"s":50,"x":-0.13,"y":0},{"s":50,"x":-0.11,"y":1.4},{"s":50,"x":-0.1,"y":0.9},{"s":50,"x":-0.09,"y":-1.4},{"s":50,"x":-0.08,"y":-6.7},{"s":50,"x":-0.07,"y":-9.7},{"s":50,"x":-0.06,"y":-10.8},{"s":50,"x":-0.05,"y":-11.7},{"s":50,"x":-0.04,"y":-12},{"s":50,"x":-0.03,"y":-10.8},{"s":50,"x":-0.02,"y":-6},{"s":50,"x":-0.015,"y":0},{"s":50,"x":-0.01,"y":5.9},{"s":50,"x":-0.005,"y":3},{"s":50,"x":0,"y":0},{"s":50,"x":0.005,"y":0.5},{"s":50,"x":0.01,"y":4.7},{"s":50,"x":0.02,"y":38},{"s":50,"x":0.03,"y":64},{"s":50,"x":0.04,"y":76},{"s":50,"x":0.045,"y":75.5},{"s":50,"x":0.05,"y":76},{"s":50,"x":0.06,"y":82.2},{"s":50,"x":0.07,"y":90.6},{"s":50,"x":0.08,"y":94},{"s":50,"x":0.09,"y":95.9},{"s":50,"x":0.1,"y":93.6},{"s":50,"x":0.11,"y":88},{"s":50,"x":0.12,"y":83},{"s":50,"x":0.13,"y":80},{"s":50,"x":0.14,"y":79.5},{"s":50,"x":0.15,"y":80},{"s":50,"x":0.16,"y":80},{"s":50,"x":0.17,"y":80},{"s":50,"x":0.18,"y":79.5},{"s":50,"x":0.19,"y":78.9},{"s":50,"x":0.2,"y":78},{"s":50,"x":0.21,"y":77.3},{"s":50,"x":0.22,"y":74.9},{"s":50,"x":0.23,"y":74.3},{"s":50,"x":0.24,"y":74.6},{"s":50,"x":0.25,"y":74.9}
]
},
"columns":2,
"spacing":{"row":31,"column":4},
"resolve":{"scale":{"color":"independent","x":"independent","y":"independent"},"legend":{"color":"independent"},"axis":{"x":"independent","y":"independent"}},
"concat":[
  {"width":482,"height":265,"title":"Echéance T3 ZA AFL noyé 20 °C 1",
   "layer":[
    {"data":{"name":"p1"},"mark":{"type":"line","interpolate":"monotone","strokeWidth":2,"clip":true},
     "encoding":{
      "x":{"field":"x","type":"quantitative","title":"Distance z (m)","scale":{"domain":[-0.15,0.25],"nice":false,"zero":false},"axis":{"values":[-0.15,-0.1,-0.05,0,0.05,0.1,0.15,0.2,0.25],"labelExpr":"replace(replace(format(datum.value,'.2f'),'.',','),'−','-')"}},
      "y":{"field":"y","type":"quantitative","title":"Déformation normalisée (µε/N)","scale":{"domain":[-25,100],"nice":false,"zero":false},"axis":{"values":[-25,-5,15,35,55,75,95],"labelExpr":"'' + datum.value"}},
      "color":{"field":"s","type":"nominal","scale":{"domain":[10,20,30,40,50,60,70,80,90],"range":["#00B0F0","#C55A11","#A5A5A5","#00B050","#7030A0","#FF0000","#000000","#0070C0","#BF9000"]},
       "legend":{"title":null,"orient":"none","legendX":380,"legendY":81,"symbolSize":441,"padding":3,"symbolOffset":7,"rowPadding":1,"labelExpr":"datum.label + ' N'"}}
     }},
    {"data":{"values":[{"x":0},{"x":0.129},{"x":0.244}]},"mark":{"type":"rule","color":"#C00000","strokeDash":[6,4],"strokeWidth":2},
     "encoding":{"x":{"field":"x","type":"quantitative","title":"Distance z (m)"}}},
    {"data":{"values":[{"t":"Z1","x":-0.067,"y":91.5},{"t":"Z2","x":0.058,"y":91.5},{"t":"Z3","x":0.175,"y":91.5}]},"mark":{"type":"text","font":"Lato","fontSize":14,"fontWeight":"bold","color":"#C00000"},
     "encoding":{"x":{"field":"x","type":"quantitative","title":"Distance z (m)"},"y":{"field":"y","type":"quantitative","title":"Déformation normalisée (µε/N)"},"text":{"field":"t"}}}
   ]},
  {"width":482,"height":266,"title":"Echéance T3 ZA AFL noyé 20 °C 2",
   "layer":[
    {"data":{"name":"p2"},"mark":{"type":"line","interpolate":"monotone","strokeWidth":2,"clip":true},
     "encoding":{
      "x":{"field":"x","type":"quantitative","title":"Distance z (m)","scale":{"domain":[-0.15,0.25],"nice":false,"zero":false},"axis":{"values":[-0.15,-0.1,-0.05,0,0.05,0.1,0.15,0.2,0.25],"labelExpr":"replace(replace(format(datum.value,'.2f'),'.',','),'−','-')"}},
      "y":{"field":"y","type":"quantitative","title":"Déformation normalisée (µε/N)","scale":{"domain":[-10,110],"nice":false,"zero":false},"axis":{"values":[-10,10,30,50,70,90,110],"labelExpr":"'' + datum.value"}},
      "color":{"field":"s","type":"nominal","scale":{"domain":[10,20,30,40,50,60,70,80],"range":["#00B0F0","#C55A11","#A5A5A5","#00B050","#7030A0","#FF0000","#000000","#0070C0"]},
       "legend":{"title":null,"orient":"none","legendX":382,"legendY":77,"symbolSize":625,"padding":6,"symbolOffset":12,"rowPadding":2,"labelExpr":"datum.label + ' N'"}}
     }},
    {"data":{"values":[{"x":0},{"x":0.097},{"x":0.245}]},"mark":{"type":"rule","color":"#C00000","strokeDash":[6,4],"strokeWidth":2},
     "encoding":{"x":{"field":"x","type":"quantitative","title":"Distance z (m)"}}},
    {"data":{"values":[{"t":"Z1","x":-0.045,"y":104},{"t":"Z2","x":0.0575,"y":104},{"t":"Z3","x":0.174,"y":104}]},"mark":{"type":"text","font":"Lato","fontSize":14,"fontWeight":"bold","color":"#C00000"},
     "encoding":{"x":{"field":"x","type":"quantitative","title":"Distance z (m)"},"y":{"field":"y","type":"quantitative","title":"Déformation normalisée (µε/N)"},"text":{"field":"t"}}}
   ]},
  {"width":481,"height":261,"title":"Echéance T3 ZA AFL noyé 40 °C 1",
   "layer":[
    {"data":{"name":"p3"},"mark":{"type":"line","interpolate":"monotone","strokeWidth":2,"clip":true},
     "encoding":{
      "x":{"field":"x","type":"quantitative","title":"Distance z (m)","scale":{"domain":[-0.15,0.25],"nice":false,"zero":false},"axis":{"values":[-0.15,-0.1,-0.05,0,0.05,0.1,0.15,0.2,0.25],"labelExpr":"replace(replace(format(datum.value,'.2f'),'.',','),'−','-')"}},
      "y":{"field":"y","type":"quantitative","title":"Déformation normalisée (µε/N)","scale":{"domain":[-10,110],"nice":false,"zero":false},"axis":{"values":[-10,10,30,50,70,90,110],"labelExpr":"'' + datum.value","titlePadding":9}},
      "color":{"field":"s","type":"nominal","scale":{"domain":[10,20,30,40,50],"range":["#00B0F0","#C55A11","#A5A5A5","#00B050","#7030A0"]},
       "legend":{"title":null,"orient":"none","legendX":393,"legendY":103,"symbolSize":529,"padding":7,"symbolOffset":7,"rowPadding":11.5,"labelExpr":"datum.label + ' N'"}}
     }},
    {"data":{"values":[{"x":0},{"x":0.133},{"x":0.238}]},"mark":{"type":"rule","color":"#C00000","strokeDash":[6,4],"strokeWidth":2},
     "encoding":{"x":{"field":"x","type":"quantitative","title":"Distance z (m)"}}},
    {"data":{"values":[{"t":"Z1","x":-0.0435,"y":104},{"t":"Z2","x":0.056,"y":104},{"t":"Z3","x":0.184,"y":104}]},"mark":{"type":"text","font":"Lato","fontSize":14,"fontWeight":"bold","color":"#C00000"},
     "encoding":{"x":{"field":"x","type":"quantitative","title":"Distance z (m)"},"y":{"field":"y","type":"quantitative","title":"Déformation normalisée (µε/N)"},"text":{"field":"t"}}}
   ]},
  {"width":475,"height":262,"title":"Echéance T3 ZA AFL noyé 40 °C 2",
   "layer":[
    {"data":{"name":"p4"},"mark":{"type":"line","interpolate":"monotone","strokeWidth":2,"clip":true},
     "encoding":{
      "x":{"field":"x","type":"quantitative","title":"Distance z (m)","scale":{"domain":[-0.15,0.25],"nice":false,"zero":false},"axis":{"values":[-0.15,-0.1,-0.05,0,0.05,0.1,0.15,0.2,0.25],"labelExpr":"replace(replace(format(datum.value,'.2f'),'.',','),'−','-')"}},
      "y":{"field":"y","type":"quantitative","title":"Déformation normalisée (µε/N)","scale":{"domain":[-15,105],"nice":false,"zero":false},"axis":{"values":[-15,5,25,45,65,85,105],"labelExpr":"'' + datum.value"}},
      "color":{"field":"s","type":"nominal","scale":{"domain":[10,20,30,40,50],"range":["#00B0F0","#C55A11","#A5A5A5","#00B050","#7030A0"]},
       "legend":{"title":null,"orient":"none","legendX":387,"legendY":103,"symbolSize":529,"padding":7,"symbolOffset":8,"rowPadding":11.5,"labelExpr":"datum.label + ' N'"}}
     }},
    {"data":{"values":[{"x":0},{"x":0.085},{"x":0.248}]},"mark":{"type":"rule","color":"#C00000","strokeDash":[6,4],"strokeWidth":2},
     "encoding":{"x":{"field":"x","type":"quantitative","title":"Distance z (m)"}}},
    {"data":{"values":[{"t":"Z1","x":-0.057,"y":96.8},{"t":"Z2","x":0.041,"y":96.8},{"t":"Z3","x":0.1675,"y":96.8}]},"mark":{"type":"text","font":"Lato","fontSize":14,"fontWeight":"bold","color":"#C00000"},
     "encoding":{"x":{"field":"x","type":"quantitative","title":"Distance z (m)"},"y":{"field":"y","type":"quantitative","title":"Déformation normalisée (µε/N)"},"text":{"field":"t"}}}
   ]}
]
}
